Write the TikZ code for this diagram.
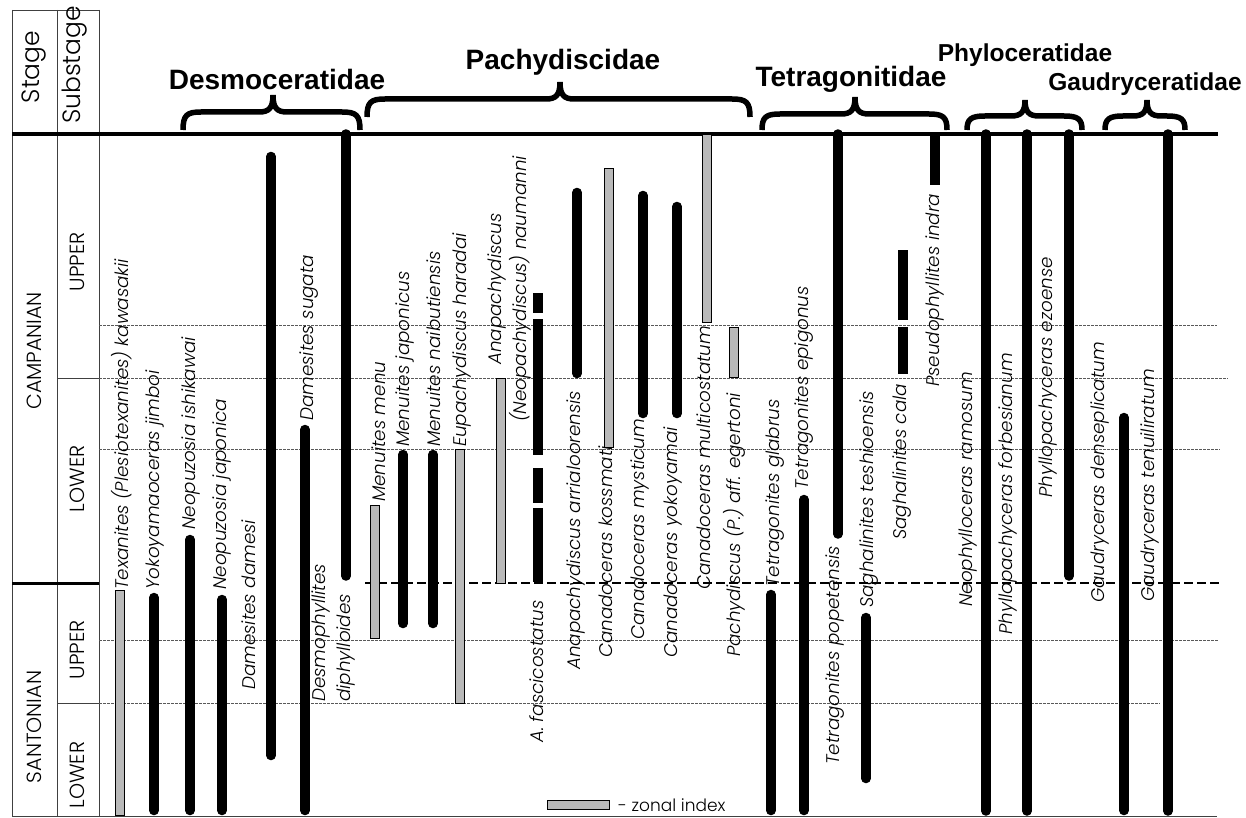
\documentclass[tikz,border=0pt]{standalone}
\usepackage{fontspec}
\newfontfamily\myGothic{Poppins Light}
\newfontfamily\myArial{Liberation Sans}
\newcommand\mySp{\myGothic\itshape\fontsize{18.3}{25}\selectfont}
\newcommand\myHd{\myGothic\fontsize{20.5}{24}\selectfont}
\newcommand\myFam{\myArial\bfseries\fontsize{28}{32}\selectfont}
\newcommand\myFamS{\myArial\bfseries\fontsize{24.5}{28}\selectfont}
\begin{document}
\begin{tikzpicture}[x=1pt,y=-1pt,
  sp/.style={rotate=90, anchor=west, inner sep=0pt, font=\mySp},
  hd/.style={rotate=90, inner sep=0pt, font=\myHd},
  fam/.style={anchor=base, inner sep=0pt, font=\myFam},
  famS/.style={anchor=base, inner sep=0pt, font=\myFamS},
  bbar/.style={line width=9.5pt, line cap=round},
  sbar/.style={line width=10pt},
  gbar/.style={draw=black, line width=0.8pt, fill=gray!55},
  frame/.style={line width=0.8pt, black!75},
  gridline/.style={line width=0.7pt, black!65, dash pattern=on 2.5pt off 1.5pt},
  bound/.style={line width=2.6pt, dash pattern=on 9pt off 4pt},
  bracestyle/.style={line width=5.5pt}]
\useasboundingbox (0,0) rectangle (1246,818);
\fill[white] (0,0) rectangle (1246,818);
\newcommand\fambrace[6]{%
  \draw[bracestyle] (#1,#6) .. controls (#1,{#5+3}) and ({#1+4},#5) .. ({#1+18},#5)
   -- ({#2-14},#5) .. controls ({#2-4},#5) and (#2,{#5-4}) .. (#2,#4)
   .. controls (#2,{#5-4}) and ({#2+4},#5) .. ({#2+14},#5)
   -- ({#3-18},#5) .. controls ({#3-4},#5) and (#3,{#5+3}) .. (#3,#6);}
\newcommand\gb[3]{\draw[gbar] ({#1-4.5},#2) rectangle ({#1+4.5},#3);}
\newcommand\bb[3]{\draw[bbar] (#1,{#2+4.5}) -- (#1,{#3-4.5});}
% frame
\draw[frame] (12,10) -- (99,10);
\draw[frame] (12,10) -- (12,816);
\draw[frame] (57,10) -- (57,816);
\draw[frame] (99,10) -- (99,816);
\draw[frame] (12,816) -- (1217,816);
\draw[frame] (57,378) -- (99,378);
\draw[frame] (57,703) -- (99,703);
% grid
\draw[gridline] (99,325) -- (1217,325);
\draw[gridline] (99,378) -- (1228,378);
\draw[gridline] (99,449) -- (1220,449);
\draw[gridline] (99,640) -- (1218,640);
\draw[gridline] (99,703) -- (1160,703);
% main lines
\draw[line width=4pt] (12,134) -- (1218,134);
\draw[line width=3pt] (12,583) -- (99,583);
\draw[bound] (365,583) -- (1220,583);
% header texts
\node[hd, font=\myGothic\fontsize{25}{28}\selectfont] (stage) at (34,67) {Stage};
\node[hd, font=\myGothic\fontsize{25}{28}\selectfont] (substage) at (75,65) {Substage};
\node[hd] (camp) at (34,351) {CAMPANIAN};
\node[hd] (sant) at (34,727) {SANTONIAN};
\node[hd] (cu) at (77,262) {UPPER};
\node[hd] (cl) at (77,479) {LOWER};
\node[hd] (su) at (77,650) {UPPER};
\node[hd] (sl) at (77,775) {LOWER};
% family titles and braces
\node[fam] (desmo) at (277,90) {Desmoceratidae};
\node[fam] (pachy) at (563,70) {Pachydiscidae};
\node[fam] (tetra) at (851,87) {Tetragonitidae};
\node[famS] (phylo) at (1025,62) {Phyloceratidae};
\node[famS] (gaudry) at (1145,91) {Gaudryceratidae};
\fambrace{183}{273}{360}{95}{112}{130}
\fambrace{367}{560}{750}{82}{99}{117}
\fambrace{762}{855}{947}{97}{114}{130}
\fambrace{967}{1025}{1082}{100}{116}{130}
\fambrace{1105}{1147}{1185}{100}{116}{130}
% bars
\gb{119.5}{590}{815}
\bb{154}{593}{815}
\bb{190}{535}{815}
\bb{222}{595}{815}
\bb{271}{152}{760}
\bb{305}{425}{815}
\draw[bbar] (346,134) -- (346,576);
\gb{375}{505}{638}
\bb{403}{450}{628}
\bb{433}{450}{628}
\gb{460}{449}{703}
\gb{501}{378}{583}
\draw[sbar] (538,293) -- (538,313);
\draw[sbar] (538,319) -- (538,455);
\draw[sbar] (538,468) -- (538,503);
\draw[sbar] (538,508) -- (538,582);
\bb{577}{188}{378}
\gb{609}{168}{447}
\bb{643}{191}{418}
\bb{677}{202}{418}
\gb{707}{134}{322}
\gb{734}{327}{377}
\bb{771}{590}{815}
\bb{804}{495}{815}
\draw[bbar] (838,134) -- (838,534);
\bb{866}{613}{783}
\draw[sbar] (903,250) -- (903,320);
\draw[sbar] (903,327) -- (903,374);
\draw[sbar] (935,134) -- (935,185);
\draw[bbar] (986,134) -- (986,811);
\draw[bbar] (1027,134) -- (1027,811);
\draw[bbar] (1069,134) -- (1069,576);
\bb{1124}{413}{815}
\draw[bbar] (1168,134) -- (1168,811);
% species labels
\node[sp] (l1) at (122,590) {Texanites (Plesiotexanites) kawasakii};
\node[sp] (l2) at (155,590) {Yokoyamaoceras jimboi};
\node[sp] (l3) at (191,530) {Neopuzosia ishikawai};
\node[sp] (l4) at (222,590) {Neopuzosia japonica};
\node[sp] (l5) at (249,690) {Damesites damesi};
\node[sp] (l6) at (309,421) {Damesites sugata};
\node[sp, align=left] (l7) at (333,702) {Desmophyllites\\diphylloides};
\node[sp] (l8) at (379,502) {Menuites menu};
\node[sp] (l9) at (405,447) {Menuites japonicus};
\node[sp] (l10) at (434,447) {Menuites naibutiensis};
\node[sp] (l11) at (462,447) {Eupachydiscus haradai};
\node[sp, anchor=center, align=center] (l12) at (509,289) {Anapachydiscus\\(Neopachydiscus) naumanni};
\node[sp] (l13) at (537,743) {A. fascicostatus};
\node[sp] (l14) at (576,670) {Anapachydiscus arrialoorensis};
\node[sp] (l15) at (606,658) {Canadoceras kossmati};
\node[sp] (l16) at (640,640) {Canadoceras mysticum};
\node[sp] (l17) at (673,658) {Canadoceras yokoyamai};
\node[sp] (l18) at (704,590) {Canadoceras multicostatum};
\node[sp] (l19) at (734,657) {Pachydiscus (P.) aff. egertoni};
\node[sp] (l20) at (775,587) {Tetragonites glabrus};
\node[sp] (l21) at (804,490) {Tetragonites epigonus};
\node[sp] (l22) at (835,765) {Tetragonites popetensis};
\node[sp] (l23) at (869,608) {Saghalinites teshioensis};
\node[sp] (l24) at (902,540) {Saghalinites cala};
\node[sp] (l25) at (935,387) {Pseudophyllites indra};
\node[sp] (l26) at (968,607) {Neophylloceras ramosum};
\node[sp] (l27) at (1008,635) {Phyllopachyceras forbesianum};
\node[sp] (l28) at (1048,498) {Phyllopachyceras ezoense};
\node[sp] (l29) at (1100,603) {Gaudryceras denseplicatum};
\node[sp] (l30) at (1150,602) {Gaudryceras tenuiliratum};
% legend
\draw[gbar] (547,800) rectangle (609,809);
\node[anchor=west, inner sep=0pt, font=\myGothic\fontsize{17}{19}\selectfont] (leg) at (618,805) {- zonal index};
\end{tikzpicture}
\end{document}
